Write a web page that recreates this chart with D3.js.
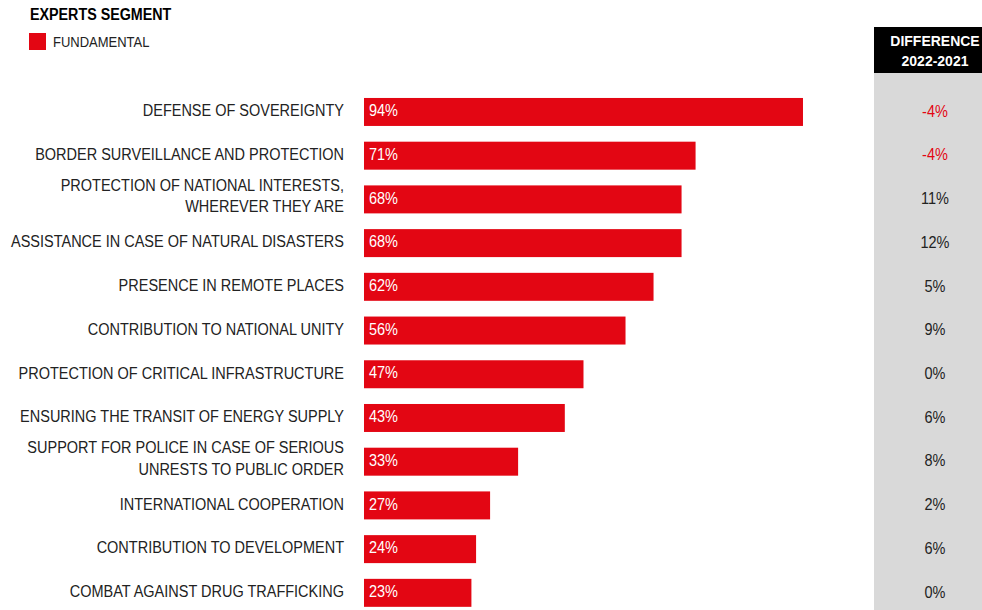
<!DOCTYPE html>
<html>
<head>
<meta charset="utf-8">
<script src="https://cdn.jsdelivr.net/npm/d3@7"></script>
<style>
  html, body { margin: 0; padding: 0; background: #fff; }
  svg { display: block; font-family: "Liberation Sans", Arial, sans-serif; }
</style>
</head>
<body>
<svg id="chart" width="982" height="610"></svg>
<script>
// Functions of the armed forces rated "fundamental" by the experts segment
const categories = [
  ["DEFENSE OF SOVEREIGNTY"],
  ["BORDER SURVEILLANCE AND PROTECTION"],
  ["PROTECTION OF NATIONAL INTERESTS,", "WHEREVER THEY ARE"],
  ["ASSISTANCE IN CASE OF NATURAL DISASTERS"],
  ["PRESENCE IN REMOTE PLACES"],
  ["CONTRIBUTION TO NATIONAL UNITY"],
  ["PROTECTION OF CRITICAL INFRASTRUCTURE"],
  ["ENSURING THE TRANSIT OF ENERGY SUPPLY"],
  ["SUPPORT FOR POLICE IN CASE OF SERIOUS", "UNRESTS TO PUBLIC ORDER"],
  ["INTERNATIONAL COOPERATION"],
  ["CONTRIBUTION TO DEVELOPMENT "],
  ["COMBAT AGAINST DRUG TRAFFICKING"]
];
const fundamental = [94, 71, 68, 68, 62, 56, 47, 43, 33, 27, 24, 23];
const difference = [-4, -4, 11, 12, 5, 9, 0, 6, 8, 2, 6, 0];
const seriesName = "FUNDAMENTAL";
const chartTitle = "EXPERTS SEGMENT";
const diffHeader = ["DIFFERENCE", "2022-2021"];

const RED = "#e30613";
const svg = d3.select("#chart");

const ids = categories.map((c, i) => i);
const x = d3.scaleLinear().domain([0, 100]).range([364, 831]);
const y = d3.scaleBand().domain(ids).range([90.1, 614.7])
  .paddingInner(0.36).paddingOuter(0.18);

// Text with a slightly taller-than-wide letterform
function tallText(parent, px, py, str, opts) {
  const o = Object.assign({ size: 14.5, sy: 1.17, anchor: "start", fill: "#222", weight: "normal" }, opts);
  return parent.append("text")
    .attr("transform", `translate(${px},${py}) scale(1,${o.sy})`)
    .attr("text-anchor", o.anchor)
    .attr("font-size", o.size)
    .attr("font-weight", o.weight)
    .attr("fill", o.fill)
    .text(str);
}

// Difference column background and header
svg.append("rect").attr("x", 874).attr("y", 73).attr("width", 110).attr("height", 540)
  .attr("fill", "#d9d9d9");
svg.append("rect").attr("x", 874).attr("y", 27).attr("width", 110).attr("height", 46)
  .attr("fill", "#000");
diffHeader.forEach((line, k) => {
  tallText(svg, 935, 46 + k * 20, line, { size: 14, sy: 1.1, anchor: "middle", fill: "#fff", weight: "bold" });
});

// Title and legend
tallText(svg, 30, 20, chartTitle, { size: 14.3, sy: 1.1, fill: "#000", weight: "bold" });
svg.append("rect").attr("x", 29).attr("y", 33).attr("width", 17).attr("height", 17)
  .attr("fill", RED);
tallText(svg, 53, 47, seriesName, { size: 13, sy: 1.1, fill: "#222" });

// Bars
const rows = svg.append("g").selectAll("g").data(ids).join("g");

rows.append("rect")
  .attr("x", x(0))
  .attr("y", i => y(i))
  .attr("width", i => x(fundamental[i]) - x(0))
  .attr("height", y.bandwidth())
  .attr("fill", RED);

rows.each(function(i) {
  const g = d3.select(this);
  const cy = y(i) + y.bandwidth() / 2;

  // value inside the bar
  tallText(g, x(0) + 5, cy + 4.2, fundamental[i] + "%", { size: 14.5, sy: 1.08, fill: "#fff" });

  // category label, right aligned, one or two lines
  const lines = categories[i];
  lines.forEach((line, k) => {
    const off = lines.length === 1 ? 4.3 : 2.4 + (k - 0.5) * 21.2;
    tallText(g, 344, cy + off, line, { anchor: "end" });
  });

  // difference vs previous year
  tallText(g, 935, cy + 4.8, difference[i] + "%", {
    size: 14.5, sy: 1.1, anchor: "middle",
    fill: difference[i] < 0 ? RED : "#222"
  });
});
</script>
</body>
</html>
